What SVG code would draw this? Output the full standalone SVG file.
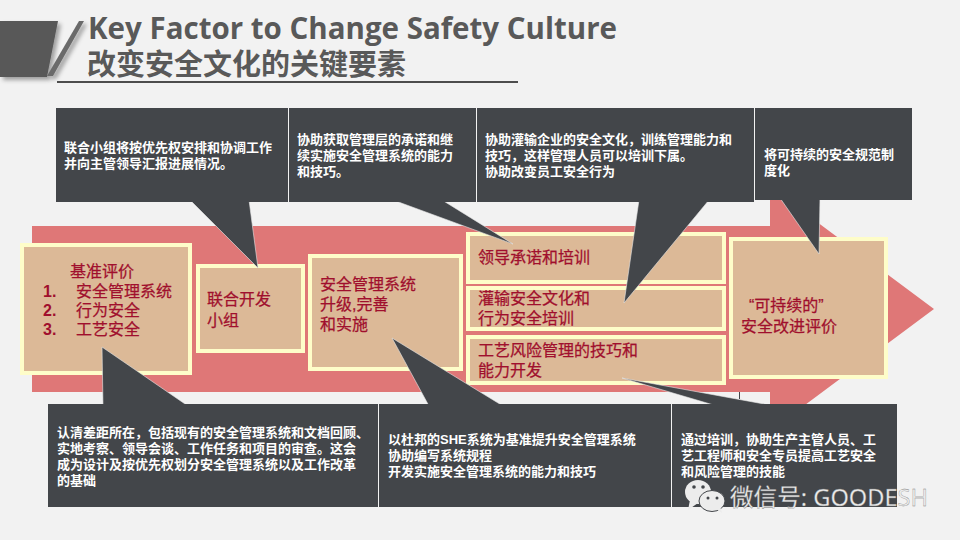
<svg xmlns="http://www.w3.org/2000/svg" width="960" height="540" viewBox="0 0 960 540">
<defs>
<filter id="sh" x="-20%" y="-20%" width="150%" height="150%"><feDropShadow dx="3" dy="3" stdDeviation="2" flood-color="#000" flood-opacity="0.35"/></filter>
</defs>
<style>
text{font-family:"Liberation Sans","Noto Sans CJK SC",sans-serif}
.dark{fill:#43464a}
.tail{fill:#43464a;stroke:#e8e8e8;stroke-width:.6}
.beige{fill:#dcb997;stroke:#fefdc9;stroke-width:4}
.w{fill:#fff;font-size:13px;font-weight:700}
.r{fill:#a00f2d;font-size:16px;stroke:#a00f2d;stroke-width:.25}
.n{fill:#a00f2d;font-size:16px;font-weight:700}
.t{fill:#595959;font-weight:700}
</style>
<rect width="960" height="540" fill="#f2f2f2"/>
<g id="header">
<polygon points="0,21 58,21 47,77 0,77" fill="#595959" filter="url(#sh)"/>
<polygon points="79,21 84,21 53,76 47,76" fill="#6b6b6b" filter="url(#sh)"/>
<text class="t" x="88" y="39" font-size="30" style="font-family:'Open Sans','Noto Sans',sans-serif;font-weight:700" textLength="529" lengthAdjust="spacingAndGlyphs">Key Factor to Change Safety Culture</text>
<text class="t" x="87" y="75" font-size="29" style="font-family:'Noto Sans CJK SC',sans-serif">改变安全文化的关键要素</text>
<rect x="57" y="81" width="461" height="2" fill="#4d4d4d"/>
</g>
<g id="arrow"><polygon points="32,226 770,226 770,187 934,309 770,431 770,392 32,392" fill="#df7777"/></g>
<g id="step1"><rect class="beige" x="22" y="245" width="168" height="128"/>
<text class="r" x="70" y="277">基准评价</text>
<text class="n" x="43" y="297">1.</text><text class="r" x="76" y="297">安全管理系统</text>
<text class="n" x="43" y="316">2.</text><text class="r" x="76" y="316">行为安全</text>
<text class="n" x="43" y="335">3.</text><text class="r" x="76" y="335">工艺安全</text></g>
<g id="step2"><rect class="beige" x="198" y="266" width="105" height="85"/>
<text class="r" x="207" y="305">联合开发</text><text class="r" x="207" y="326">小组</text></g>
<g id="step3"><rect class="beige" x="310" y="256" width="151" height="113"/>
<text class="r" x="320" y="290">安全管理系统</text><text class="r" x="320" y="310">升级,完善</text><text class="r" x="320" y="330">和实施</text></g>
<g id="step4a"><rect class="beige" x="468" y="234" width="256" height="48"/>
<text class="r" x="478" y="263">领导承诺和培训</text></g>
<g id="step4b"><rect class="beige" x="468" y="288" width="256" height="41"/>
<text class="r" x="478" y="304">灌输安全文化和</text><text class="r" x="478" y="324">行为安全培训</text></g>
<g id="step4c"><rect class="beige" x="468" y="337" width="256" height="46"/>
<text class="r" x="478" y="356">工艺风险管理的技巧和</text><text class="r" x="478" y="376">能力开发</text></g>
<g id="step5"><rect class="beige" x="731" y="239" width="155" height="138"/>
<text class="r" x="749" y="311">“可持续的”</text><text class="r" x="741" y="332">安全改进评价</text></g>
<g id="connectors">
<polygon class="tail" points="190,200 258,268 249,200"/>
<polygon class="tail" points="393,200 513,244 442,200"/>
<polygon class="tail" points="639,200 624,303 709,200"/>
<polygon class="tail" points="780,198 819,254 820,198"/>
<polygon class="tail" points="103,406 102,347 188,406"/>
<polygon class="tail" points="429,406 392,338 503,406"/>
<polygon class="tail" points="717,406 622,378 775,406"/>
<line x1="739.5" y1="392" x2="739.5" y2="399" stroke="#43464a"/>
</g>
<g id="note1"><rect class="dark" x="56" y="108" width="232" height="94"/>
<text class="w" x="64" y="152">联合小组将按优先权安排和协调工作</text><text class="w" x="64" y="168">并向主管领导汇报进展情况。</text></g>
<g id="note2"><rect class="dark" x="289" y="108" width="187" height="94"/>
<text class="w" x="297" y="144">协助获取管理层的承诺和继</text><text class="w" x="297" y="160">续实施安全管理系统的能力</text><text class="w" x="297" y="176">和技巧。</text></g>
<g id="note3"><rect class="dark" x="477" y="108" width="277" height="94"/>
<text class="w" x="485" y="144">协助灌输企业的安全文化，训练管理能力和</text><text class="w" x="485" y="160">技巧，这样管理人员可以培训下属。</text><text class="w" x="485" y="176">协助改变员工安全行为</text></g>
<g id="note4"><rect class="dark" x="755" y="108" width="157" height="92"/>
<text class="w" x="764" y="159">将可持续的安全规范制</text><text class="w" x="764" y="175">度化</text></g>
<g id="note5"><rect class="dark" x="48" y="404" width="330" height="103"/>
<text class="w" x="57" y="437">认清差距所在，包括现有的安全管理系统和文档回顾、</text><text class="w" x="57" y="453">实地考察、领导会谈、工作任务和项目的审查。这会</text><text class="w" x="57" y="469">成为设计及按优先权划分安全管理系统以及工作改革</text><text class="w" x="57" y="485">的基础</text></g>
<g id="note6"><rect class="dark" x="379" y="404" width="292" height="103"/>
<text class="w" x="388" y="444">以杜邦的SHE系统为基准提升安全管理系统</text><text class="w" x="388" y="460">协助编写系统规程</text><text class="w" x="388" y="476">开发实施安全管理系统的能力和技巧</text></g>
<g id="note7"><rect class="dark" x="672" y="404" width="225" height="103"/>
<text class="w" x="681" y="444">通过培训，协助生产主管人员、工</text><text class="w" x="681" y="460">艺工程师和安全专员提高工艺安全</text><text class="w" x="681" y="476">和风险管理的技能</text></g>
<g id="watermark">
<ellipse cx="698" cy="492" rx="13" ry="12" fill="#ececec"/>
<polygon points="690,500 688,510 698,503" fill="#ececec"/>
<ellipse cx="712" cy="501" rx="13" ry="10.5" fill="#ececec" stroke="#43464a"/>
<polygon points="716,509 722,513 720,506" fill="#ececec"/>
<circle cx="694" cy="487" r="1.8" fill="#43464a"/><circle cx="703" cy="487" r="1.8" fill="#43464a"/>
<circle cx="708" cy="498" r="1.5" fill="#43464a"/><circle cx="717" cy="498" r="1.5" fill="#43464a"/>
<text x="730" y="506" font-size="24" fill="#ececec" stroke="#777" stroke-width=".3" style="font-family:'Noto Sans','Noto Sans CJK SC',sans-serif" textLength="198" lengthAdjust="spacingAndGlyphs">微信号: GOODESH</text>
</g>
</svg>
